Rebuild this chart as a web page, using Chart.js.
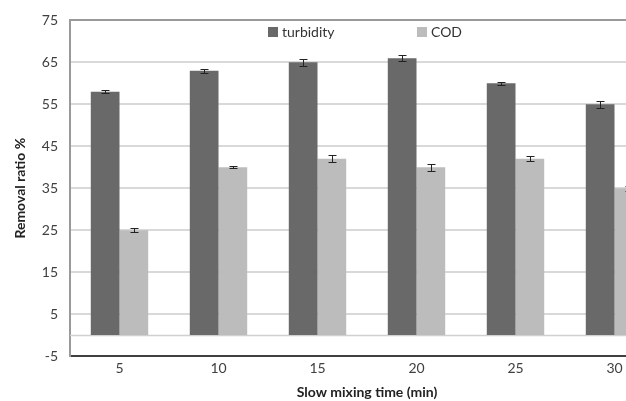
<!DOCTYPE html>
<html>
<head>
<meta charset="utf-8">
<script src="https://cdn.jsdelivr.net/npm/chart.js@4"></script>
<style>
  html, body { margin: 0; padding: 0; overflow: hidden; background: #fff; }
  #wrap { width: 680px; height: 401px; }
</style>
</head>
<body>
<div id="wrap"><canvas id="removal"></canvas></div>
<script>
const mixingTimes = ['5', '10', '15', '20', '25', '30'];
const turbidity = [58, 63, 65, 66, 60, 55];
const turbidityErr = [0.3, 0.5, 0.8, 0.7, 0.3, 0.8];
const cod = [25, 40, 42, 40, 42, 35];
const codErr = [0.5, 0.3, 0.8, 0.8, 0.6, 0.6];

const FONT = 'Lato, "Open Sans", sans-serif';

// error bars + zero line + legend inside plot
const extras = {
    id: 'extras',
    beforeDatasetsDraw(chart) {
        const ctx = chart.ctx, y = chart.scales.y, area = chart.chartArea;
        const y0 = Math.round(y.getPixelForValue(0)) + 0.5;
        ctx.save();
        ctx.strokeStyle = '#d0d0d0';
        ctx.lineWidth = 1.5;
        ctx.beginPath();
        ctx.moveTo(area.left, y0);
        ctx.lineTo(area.right, y0);
        ctx.stroke();
        ctx.restore();
    },
    afterDatasetsDraw(chart) {
        const ctx = chart.ctx, y = chart.scales.y;
        ctx.save();
        ctx.strokeStyle = '#222';
        ctx.lineWidth = 1;
        chart.data.datasets.forEach((ds, i) => {
            const meta = chart.getDatasetMeta(i);
            meta.data.forEach((bar, j) => {
                const v = ds.data[j], e = ds.errors[j];
                const x = Math.round(bar.x) + 0.5;
                const top = Math.round(y.getPixelForValue(v + e)) + 0.5;
                const bot = Math.round(y.getPixelForValue(v - e)) + 0.5;
                ctx.beginPath();
                ctx.moveTo(x, top); ctx.lineTo(x, bot);
                ctx.moveTo(x - 4, top); ctx.lineTo(x + 4, top);
                ctx.moveTo(x - 4, bot); ctx.lineTo(x + 4, bot);
                ctx.stroke();
            });
        });
        ctx.restore();
    },
    afterDraw(chart) {
        const ctx = chart.ctx;
        const spots = [268, 417];
        ctx.save();
        ctx.font = '14px ' + FONT;
        ctx.textBaseline = 'middle';
        chart.data.datasets.forEach((ds, i) => {
            const x = spots[i];
            ctx.fillStyle = ds.backgroundColor;
            ctx.fillRect(x, 27, 10, 10);
            ctx.fillStyle = '#333';
            ctx.fillText(ds.label, x + 14, 32);
        });
        ctx.restore();
    }
};

new Chart(document.getElementById('removal'), {
    type: 'bar',
    data: {
        labels: mixingTimes,
        datasets: [
            {
                label: 'turbidity',
                data: turbidity,
                errors: turbidityErr,
                backgroundColor: '#696969',
            },
            {
                label: 'COD',
                data: cod,
                errors: codErr,
                backgroundColor: '#bcbcbc',
            }
        ]
    },
    options: {
        responsive: true,
        maintainAspectRatio: false,
        animation: false,
        layout: { padding: { top: 16, right: 16, left: 0, bottom: 0 } },
        categoryPercentage: 0.58,
        barPercentage: 1.0,
        plugins: {
            legend: { display: false },
            tooltip: { enabled: false }
        },
        scales: {
            x: {
                grid: { display: false, drawTicks: false },
                border: { color: '#404040', width: 2 },
                ticks: { color: '#404040', font: { family: FONT, size: 14 }, padding: 4 },
                title: {
                    display: true,
                    text: 'Slow mixing time (min)',
                    color: '#222',
                    font: { family: FONT, size: 14, weight: 'bold' },
                    padding: { top: 0, bottom: 0 }
                },
                afterFit(scale) { scale.height = 45; }
            },
            y: {
                min: -5,
                max: 75,
                ticks: {
                    stepSize: 10,
                    color: '#404040',
                    font: { family: FONT, size: 14 },
                    padding: 12
                },
                grid: {
                    drawTicks: false,
                    lineWidth: 2,
                    color: ctx => ctx.tick && ctx.tick.value === 75 ? '#999' : '#d9d9d9'
                },
                border: { color: '#999', width: 2 },
                title: {
                    display: true,
                    text: 'Removal ratio %',
                    color: '#222',
                    font: { family: FONT, size: 14, weight: 'bold' },
                    padding: { top: 12, bottom: 0 }
                },
                afterFit(scale) { scale.width = 70; }
            }
        }
    },
    plugins: [extras]
});
</script>
</body>
</html>
